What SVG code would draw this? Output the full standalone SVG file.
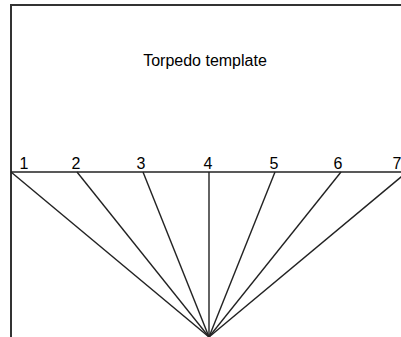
<svg xmlns="http://www.w3.org/2000/svg" width="401" height="337" viewBox="0 0 401 337">
<style>
.ln{stroke:#222;stroke-width:1.4;fill:none}
.fr{stroke:#333;stroke-width:2;fill:none}
.t{font-family:"Liberation Sans",Arial,sans-serif;font-size:16px;fill:#000;text-anchor:middle}
</style>
<rect width="401" height="337" fill="#fff"/>
<g id="frame">
<path class="fr" d="M11,337 V5 H401"/>
</g>
<g id="title"><text class="t" x="205" y="66">Torpedo template</text></g>
<g id="baseline"><line class="ln" x1="11" y1="172" x2="401" y2="172"/></g>
<g id="n1"><text class="t" x="24" y="169">1</text></g>
<g id="n2"><text class="t" x="76" y="169">2</text></g>
<g id="n3"><text class="t" x="141" y="169">3</text></g>
<g id="n4"><text class="t" x="208" y="169">4</text></g>
<g id="n5"><text class="t" x="274" y="169">5</text></g>
<g id="n6"><text class="t" x="338" y="169">6</text></g>
<g id="n7"><text class="t" x="397" y="169">7</text></g>
<g id="connectors">
<line class="ln" x1="11" y1="172" x2="209" y2="337"/>
<line class="ln" x1="77" y1="172" x2="209" y2="337"/>
<line class="ln" x1="143" y1="172" x2="209" y2="337"/>
<line class="ln" x1="209" y1="172" x2="209" y2="337"/>
<line class="ln" x1="275" y1="172" x2="209" y2="337"/>
<line class="ln" x1="341" y1="172" x2="209" y2="337"/>
<line class="ln" x1="407" y1="172" x2="209" y2="337"/>
</g>
</svg>
